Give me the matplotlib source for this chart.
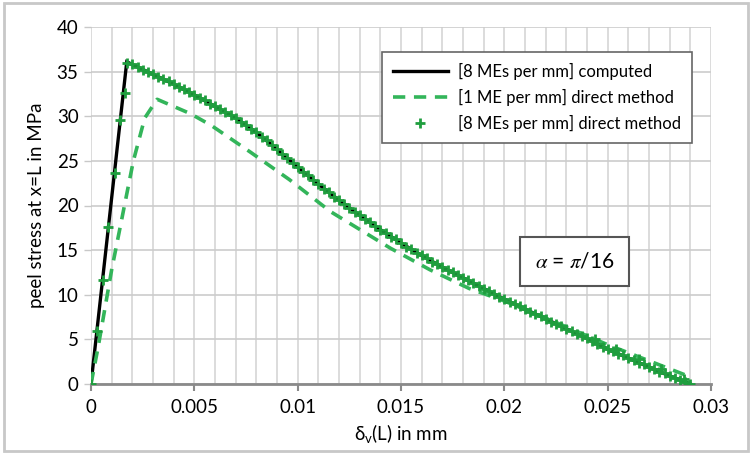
import matplotlib
matplotlib.use("Agg")
import matplotlib.pyplot as plt
from matplotlib.patches import Rectangle
from matplotlib.ticker import MultipleLocator

# ---------------- data ----------------
computed_x = [0.0, 0.00173, 0.002, 0.003, 0.004, 0.005, 0.006, 0.007, 0.008, 0.009,
              0.010, 0.011, 0.012, 0.013, 0.014, 0.015, 0.016, 0.017, 0.018, 0.019,
              0.020, 0.021, 0.022, 0.023, 0.024, 0.025, 0.026, 0.027, 0.028, 0.029]
computed_y = [0.0, 36.1, 35.8, 34.7, 33.6, 32.4, 31.1, 29.8, 28.2, 26.3,
              24.3, 22.4, 20.6, 18.9, 17.3, 15.8, 14.4, 13.1, 11.9, 10.7,
              9.5, 8.4, 7.3, 6.2, 5.1, 3.9, 2.9, 1.9, 0.9, 0.0]

direct1_x = [0.0, 0.00035, 0.001, 0.00205, 0.0026, 0.0032, 0.0048, 0.0058, 0.0077,
             0.0096, 0.0116, 0.0145, 0.0164, 0.0183, 0.0200, 0.0225, 0.0250,
             0.0270, 0.0291]
direct1_y = [0.0, 4.2, 12.8, 25.0, 29.8, 31.9, 30.3, 29.0, 26.0,
             22.9, 19.3, 15.2, 12.8, 10.7, 9.3, 6.9, 4.4,
             2.6, 0.7]

direct8_x = [0.0, 0.00027, 0.0006, 0.00084, 0.00116, 0.0014, 0.00164,
             0.00175, 0.0020, 0.00225, 0.0025, 0.00275, 0.0030, 0.00325, 0.0035, 0.00375,
             0.0040, 0.00425, 0.0045, 0.00475, 0.0050, 0.00525, 0.0055, 0.00575,
             0.0060, 0.00625, 0.0065, 0.00675, 0.0070, 0.00725, 0.0075, 0.00775,
             0.0080, 0.00825, 0.0085, 0.00875, 0.0090, 0.00925, 0.0095, 0.00975,
             0.0100, 0.01025, 0.0105, 0.01075, 0.0110, 0.01125, 0.0115, 0.01175,
             0.0120, 0.01225, 0.0125, 0.01275, 0.0130, 0.01325, 0.0135, 0.01375,
             0.0140, 0.01425, 0.0145, 0.01475, 0.0150, 0.01525, 0.0155, 0.01575,
             0.0160, 0.01625, 0.0165, 0.01675, 0.0170, 0.01725, 0.0175, 0.01775,
             0.0180, 0.01825, 0.0185, 0.01875, 0.0190, 0.01925, 0.0195, 0.01975,
             0.0200, 0.02025, 0.0205, 0.02075, 0.0210, 0.02125, 0.0215, 0.02175,
             0.0220, 0.02225, 0.0225, 0.02275, 0.0230, 0.02325, 0.0235, 0.02375,
             0.0240, 0.02425, 0.0245, 0.02475, 0.0250, 0.02525, 0.0255, 0.02575,
             0.0260, 0.02625, 0.0265, 0.02675, 0.0270, 0.02725, 0.0275, 0.02775,
             0.0280, 0.02825, 0.0285, 0.02875, 0.0290,
             0.0244, 0.0254, 0.0265, 0.0276, 0.0287]
direct8_y = [0.0, 5.9, 11.65, 17.6, 23.6, 29.6, 32.6,
             36.0, 35.8, 35.5, 35.2, 35.0, 34.7, 34.4, 34.2, 33.9,
             33.6, 33.3, 33.0, 32.7, 32.4, 32.1, 31.8, 31.4,
             31.1, 30.8, 30.5, 30.1, 29.8, 29.4, 29.0, 28.6,
             28.2, 27.7, 27.3, 26.8, 26.3, 25.8, 25.3, 24.8,
             24.3, 23.8, 23.4, 22.9, 22.4, 21.9, 21.5, 21.0,
             20.6, 20.2, 19.7, 19.3, 18.9, 18.5, 18.1, 17.7,
             17.3, 16.9, 16.5, 16.2, 15.8, 15.4, 15.1, 14.7,
             14.4, 14.1, 13.7, 13.4, 13.1, 12.8, 12.5, 12.2,
             11.9, 11.6, 11.3, 11.0, 10.7, 10.4, 10.1, 9.8,
             9.5, 9.2, 9.0, 8.7, 8.4, 8.1, 7.8, 7.6,
             7.3, 7.0, 6.7, 6.5, 6.2, 5.9, 5.6, 5.4,
             5.1, 4.8, 4.5, 4.2, 3.9, 3.7, 3.4, 3.2,
             2.9, 2.7, 2.4, 2.2, 1.9, 1.7, 1.4, 1.2,
             0.9, 0.7, 0.5, 0.2, 0.0,
             5.0, 3.9, 2.8, 1.7, 0.6]

labels = ["[8 MEs per mm] computed",
          "[1 ME per mm] direct method",
          "[8 MEs per mm] direct method"]
xticks = [0, 0.005, 0.01, 0.015, 0.02, 0.025, 0.03]
xtick_labels = ['0', '0.005', '0.01', '0.015', '0.02', '0.025', '0.03']
xlabel = r"$\mathregular{\delta_v}$(L) in mm"
ylabel = "peel stress at x=L in MPa"
annot = r"$\alpha$ = $\pi$/16"

# ---------------- style ----------------
plt.rcParams['font.family'] = ['Liberation Sans Narrow', 'Lato', 'DejaVu Sans']
plt.rcParams['mathtext.fontset'] = 'stix'

fig = plt.figure(figsize=(7.52, 4.54), dpi=100)
ax = fig.add_axes([91/752, 1-384/454, 620/752, 357/454])

green_dash = '#33b55a'
green_mark = '#1f9e3e'

ax.plot(computed_x, computed_y, color='black', lw=2.4, label=labels[0], zorder=3, solid_joinstyle='miter')
ax.plot(direct1_x, direct1_y, color=green_dash, lw=2.6, dashes=(3.4, 2.4), label=labels[1], zorder=4)
ax.plot(direct8_x, direct8_y, ls='none', marker='+', ms=7.5, mew=2.0, color=green_mark, label=labels[2], zorder=5)

ax.set_xlim(0, 0.03)
ax.set_ylim(0, 40)
ax.set_xticks(xticks)
ax.set_xticklabels(xtick_labels)
ax.xaxis.set_minor_locator(MultipleLocator(0.001))
ax.yaxis.set_major_locator(MultipleLocator(5))

ax.grid(which='major', axis='y', color='#cccccc', lw=1.2, zorder=0)
ax.grid(which='both', axis='x', color='#d6d6d6', lw=1.2, zorder=0)
ax.set_axisbelow(True)

for s in ['top', 'right', 'left']:
    ax.spines[s].set_visible(False)
ax.spines['bottom'].set_color('#8a8a8a')
ax.spines['bottom'].set_linewidth(2.0)
ax.tick_params(axis='x', which='major', direction='out', length=5, width=1.5, color='#8a8a8a',
               labelsize=13.5, pad=6)
ax.tick_params(axis='x', which='minor', length=0)
ax.tick_params(axis='y', which='major', direction='out', length=5, width=1.0, color='#c8c8c8',
               labelsize=13.5, pad=4)

ax.set_xlabel(xlabel, fontsize=13.5, labelpad=4)
ax.set_ylabel(ylabel, fontsize=13.5, labelpad=8)

leg = ax.legend(loc='upper right', bbox_to_anchor=(0.969, 0.930), borderaxespad=0,
                fancybox=False, framealpha=1, edgecolor='#666666', handlelength=3.3,
                borderpad=0.65, labelspacing=0.55, handletextpad=0.6,
                prop={'family': ['Lato', 'DejaVu Sans'], 'size': 12.0})
leg.get_frame().set_linewidth(1.2)

ax.text(0.0234, 13.7, annot, fontsize=15, ha='center', va='center', zorder=6,
        bbox=dict(boxstyle='square,pad=0.7', fc='white', ec='#555555', lw=1.5))

fig.patches.append(Rectangle((0.005, 0.006), 0.99, 0.987, transform=fig.transFigure,
                             fill=False, ec='#c8c8c8', lw=2))

fig.savefig('out.png', dpi=100)
